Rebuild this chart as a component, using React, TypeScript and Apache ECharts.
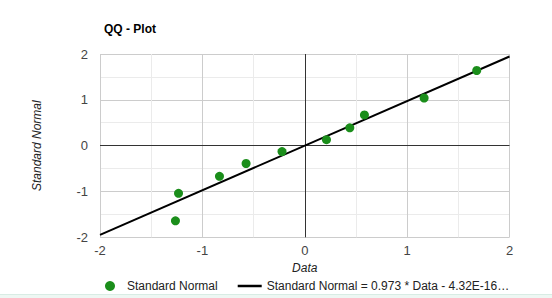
import React, { useEffect, useRef } from "react";
import * as echarts from "echarts";

const dataX = [-1.263, -1.233, -0.833, -0.573, -0.222, 0.212, 0.44, 0.583, 1.166, 1.68];
const normalQ = [-1.64, -1.04, -0.67, -0.39, -0.13, 0.13, 0.39, 0.67, 1.04, 1.64];
const trendX = [-2, 2];
const trendY = [-1.946, 1.946];
const ticks = [-2, -1, 0, 1, 2];

const scatterName = "Standard Normal";
const lineName = "Standard Normal = 0.973 * Data - 4.32E-16…";

export default function App() {
  const ref = useRef<HTMLDivElement>(null);
  useEffect(() => {
    if (!ref.current) return;
    const chart = echarts.init(ref.current, undefined, { renderer: "svg" });
    const axisCommon = {
      type: "value" as const,
      min: ticks[0],
      max: ticks[ticks.length - 1],
      interval: 1,
      axisLine: { show: false },
      axisTick: { show: false },
      splitLine: { show: true, lineStyle: { color: "#cccccc", width: 1 } },
      minorTick: { show: false, splitNumber: 2 },
      minorSplitLine: { show: true, lineStyle: { color: "#ebebeb", width: 1 } },
      nameTextStyle: { fontFamily: "Arial, Liberation Sans", fontSize: 12, fontStyle: "italic" as const, color: "#222" },
      axisLabel: { fontFamily: "Arial, Liberation Sans", fontSize: 13, color: "#444" },
    };
    chart.setOption({
      animation: false,
      backgroundColor: "#ffffff",
      title: {
        text: "QQ - Plot",
        left: 99,
        top: 18,
        textStyle: { fontFamily: "Arial, Liberation Sans", fontSize: 12, fontWeight: "bold", color: "#000" },
      },
      grid: { left: 100, right: 42.5, top: 54, bottom: 60.7, containLabel: false },
      xAxis: {
        ...axisCommon,
        name: "Data",
        nameLocation: "middle",
        nameGap: 25,
        axisLabel: { ...axisCommon.axisLabel, margin: 7 },
      },
      yAxis: {
        ...axisCommon,
        name: "Standard Normal",
        nameLocation: "middle",
        nameGap: 57,
        axisLabel: { ...axisCommon.axisLabel, margin: 12 },
      },
      legend: {
        left: 100,
        top: 275,
        itemWidth: 24,
        itemHeight: 10,
        itemGap: 20,
        textStyle: { fontFamily: "Arial, Liberation Sans", fontSize: 12, color: "#222" },
        data: [
          { name: scatterName, icon: "circle" },
          { name: lineName, icon: "path://M0,0 H24 V2.5 H0 Z" },
        ],
      },
      series: [
        {
          name: lineName,
          type: "line",
          data: trendX.map((x, i) => [x, trendY[i]]),
          symbol: "none",
          lineStyle: { color: "#000", width: 2 },
          itemStyle: { color: "#000" },
          z: 3,
        },
        {
          name: scatterName,
          type: "scatter",
          data: dataX.map((x, i) => [x, normalQ[i]]),
          symbolSize: 9,
          itemStyle: { color: "#1b8e1b", opacity: 1 },
          z: 4,
          markLine: {
            silent: true,
            symbol: "none",
            label: { show: false },
            lineStyle: { color: "#333", width: 1, type: "solid" },
            data: [{ xAxis: 0 }, { yAxis: 0 }],
            z: 2,
          },
        },
      ],
      graphic: [
        { type: "rect", shape: { x: 0, y: 294.5, width: 552, height: 4 }, style: { fill: "#eef7f3" }, silent: true },
        { type: "line", shape: { x1: 0, y1: 294.5, x2: 552, y2: 294.5 }, style: { stroke: "#d8ece4", lineWidth: 1 }, silent: true },
      ],
    });
    return () => chart.dispose();
  }, []);
  return (
    <div
      ref={ref}
      style={{ position: "fixed", left: 0, top: 0, width: 552, height: 298 }}
    />
  );
}
